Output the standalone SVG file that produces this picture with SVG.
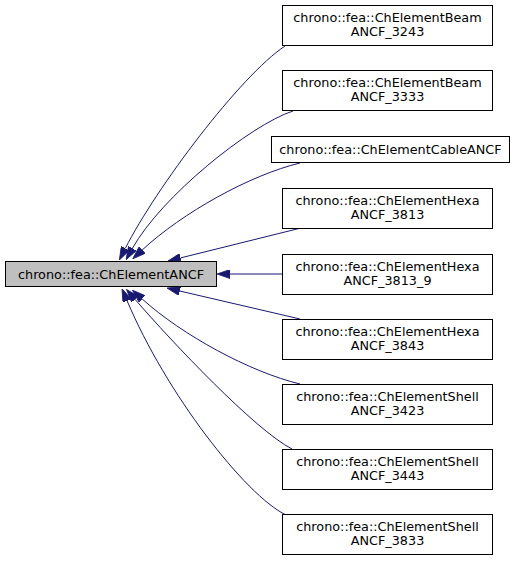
<svg xmlns="http://www.w3.org/2000/svg" width="516" height="561" viewBox="0 0 516 561">
<style>
.box{fill:#ffffff;stroke:#000000;stroke-width:1}
.main{fill:#bfbfbf;stroke:#000000;stroke-width:1}
text{font-family:"DejaVu Sans","Liberation Sans",sans-serif;font-size:12.8px;fill:#000000;text-anchor:middle}
.edge{fill:none;stroke:#191970;stroke-width:1;marker-end:url(#arr)}
</style>
<defs>
<marker id="arr" markerUnits="userSpaceOnUse" viewBox="0 0 13 9" refX="0" refY="4.5" markerWidth="13" markerHeight="9" orient="auto">
<path d="M0,0 L13,4.5 L0,9 z" fill="#191970" stroke="#191970" stroke-width="0.8"/>
</marker>
</defs>
<rect width="516" height="561" fill="#ffffff"/>
<g id="connectors">
<path class="edge" d="M285,46 C240,76 156,188 125.3,248.4"/>
<path class="edge" d="M293,111 C250,125 161,197 132.4,248.4"/>
<path class="edge" d="M300,163 C250,175 182,213 142.2,250"/>
<path class="edge" d="M301,228 L180.6,257.9"/>
<path class="edge" d="M282,274 L230,274"/>
<path class="edge" d="M300,319 L179.7,291"/>
<path class="edge" d="M300,384 C250,372 182,335 142.1,298.9"/>
<path class="edge" d="M292,449 C255,430 172,342 135,299.3"/>
<path class="edge" d="M286,515 C245,495 166,393 127.1,300.8"/>
</g>
<g id="node-main">
<rect class="main" x="5.5" y="261.5" width="211" height="25"/>
<text x="111" y="278.5">chrono::fea::ChElementANCF</text>
</g>
<g id="node-beam3243">
<rect class="box" x="282.5" y="5.5" width="210" height="40"/>
<text x="387.5" y="21.5">chrono::fea::ChElementBeam</text>
<text x="387.5" y="36">ANCF_3243</text>
</g>
<g id="node-beam3333">
<rect class="box" x="282.5" y="70.5" width="210" height="40"/>
<text x="387.5" y="86.5">chrono::fea::ChElementBeam</text>
<text x="387.5" y="101">ANCF_3333</text>
</g>
<g id="node-cable">
<rect class="box" x="271.5" y="136.5" width="238" height="26"/>
<text x="390.5" y="153.5">chrono::fea::ChElementCableANCF</text>
</g>
<g id="node-hexa3813">
<rect class="box" x="282.5" y="188.5" width="210" height="40"/>
<text x="387.5" y="204.5">chrono::fea::ChElementHexa</text>
<text x="387.5" y="219">ANCF_3813</text>
</g>
<g id="node-hexa3813_9">
<rect class="box" x="282.5" y="254.5" width="210" height="40"/>
<text x="387.5" y="270.5">chrono::fea::ChElementHexa</text>
<text x="387.5" y="285">ANCF_3813_9</text>
</g>
<g id="node-hexa3843">
<rect class="box" x="282.5" y="319.5" width="210" height="40"/>
<text x="387.5" y="335.5">chrono::fea::ChElementHexa</text>
<text x="387.5" y="350">ANCF_3843</text>
</g>
<g id="node-shell3423">
<rect class="box" x="282.5" y="384.5" width="210" height="40"/>
<text x="387.5" y="400.5">chrono::fea::ChElementShell</text>
<text x="387.5" y="415">ANCF_3423</text>
</g>
<g id="node-shell3443">
<rect class="box" x="282.5" y="449.5" width="210" height="40"/>
<text x="387.5" y="465.5">chrono::fea::ChElementShell</text>
<text x="387.5" y="480">ANCF_3443</text>
</g>
<g id="node-shell3833">
<rect class="box" x="282.5" y="514.5" width="210" height="40"/>
<text x="387.5" y="530.5">chrono::fea::ChElementShell</text>
<text x="387.5" y="545">ANCF_3833</text>
</g>
</svg>
